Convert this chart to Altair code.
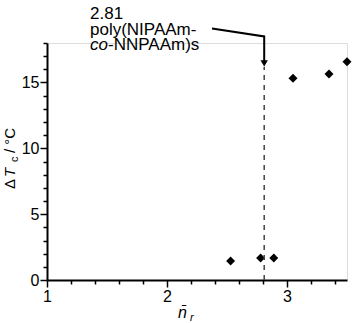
import altair as alt
import pandas as pd

# data
n_r = [2.53, 2.78, 2.89, 3.05, 3.35, 3.50]
dTc = [1.44, 1.67, 1.67, 15.32, 15.64, 16.58]
marker_x = 2.81
x_ticks = [1.0, 1.2, 1.4, 1.6, 1.8, 2.0, 2.2, 2.4, 2.6, 2.8, 3.0, 3.2, 3.4]
y_ticks = list(range(0, 19))

# arrow path (data units)
arrow_x = [2.375, 2.81, 2.81]
arrow_y = [19.1, 18.5, 16.5]

FONT = "Liberation Sans"

pts = pd.DataFrame({"x": n_r, "y": dTc})
xs = alt.Scale(domain=[1, 3.5], nice=False, zero=False)
ys = alt.Scale(domain=[0, 18], nice=False, zero=True)

xaxis = alt.Axis(
    values=x_ticks, grid=False, title=None, labelFlush=False, labelOverlap=False,
    labelExpr="abs(datum.value - round(datum.value)) < 0.001 ? format(datum.value, 'd') : ''",
    tickSize={"condition": {"test": "abs(datum.value - round(datum.value)) < 0.001", "value": 7}, "value": 4},
    labelFont=FONT, labelFontSize=16, labelColor="black", labelPadding=1,
    domainColor="black", domainWidth=2, tickColor="black", tickWidth=1.5,
)
yaxis = alt.Axis(
    values=y_ticks, grid=False, title=None, labelOverlap=False,
    labelExpr="datum.value % 5 === 0 ? format(datum.value, 'd') : ''",
    tickSize={"condition": {"test": "datum.value % 5 === 0", "value": 7}, "value": 4},
    labelFont=FONT, labelFontSize=16, labelColor="black", labelPadding=1,
    domainColor="black", domainWidth=2, tickColor="black", tickWidth=1.5,
)

X = alt.X("x:Q", scale=xs, axis=xaxis)
Y = alt.Y("y:Q", scale=ys, axis=yaxis)

points = alt.Chart(pts).mark_point(shape="diamond", filled=True, size=80, color="black", opacity=1).encode(
    x=X, y=Y,
)

dash = alt.Chart(pd.DataFrame({"x": [marker_x], "y": [0], "y2": [16.2]})).mark_rule(
    color="#444444", strokeDash=[5, 5], strokeWidth=1.5
).encode(x=X, y=Y, y2="y2:Q")

arrow = alt.Chart(pd.DataFrame({"x": arrow_x, "y": arrow_y, "i": [0, 1, 2]})).mark_line(
    color="black", strokeWidth=2
).encode(x=X, y=Y, order="i:O")

head = alt.Chart(pd.DataFrame({"x": [marker_x], "y": [16.45]})).mark_point(
    shape="triangle-down", filled=True, size=55, color="black", opacity=1
).encode(x=X, y=Y)

one = pd.DataFrame({"a": [0]})


def txt(text, x, y, size=16, style="normal", angle=0, align="left"):
    return alt.Chart(one).mark_text(
        text=text, font=FONT, fontSize=size, fontStyle=style, color="black",
        align=align, baseline="alphabetic", angle=angle
    ).encode(x=alt.value(x), y=alt.value(y))


texts = [
    txt("2.81", 43, -24, size=17),
    txt("poly(NIPAAm-", 43, -8, size=17),
    txt("co", 43, 7, size=17, style="italic"),
    txt("-NNPAAm)s", 61, 7, size=17),
    # y title
    txt("Δ", -32, 146, size=15, angle=270),
    txt("T", -32, 134, size=15, style="italic", angle=270),
    txt("c", -29, 119, size=11, angle=270),
    txt("/ °C", -32, 110, size=15, angle=270),
    # x title
    txt("n\u0304", 131, 275, style="italic"),
    txt("r", 143, 278, size=11, style="italic"),
]

chart = alt.layer(points, dash, arrow, head, *texts).properties(
    width=300, height=237,
    autosize=alt.AutoSizeParams(type="none"),
    padding={"left": 47, "top": 43, "right": 5, "bottom": 43},
).configure_view(stroke=None).configure(background="white")

chart.save("out.html", embed_options={"renderer": "svg", "actions": False})
